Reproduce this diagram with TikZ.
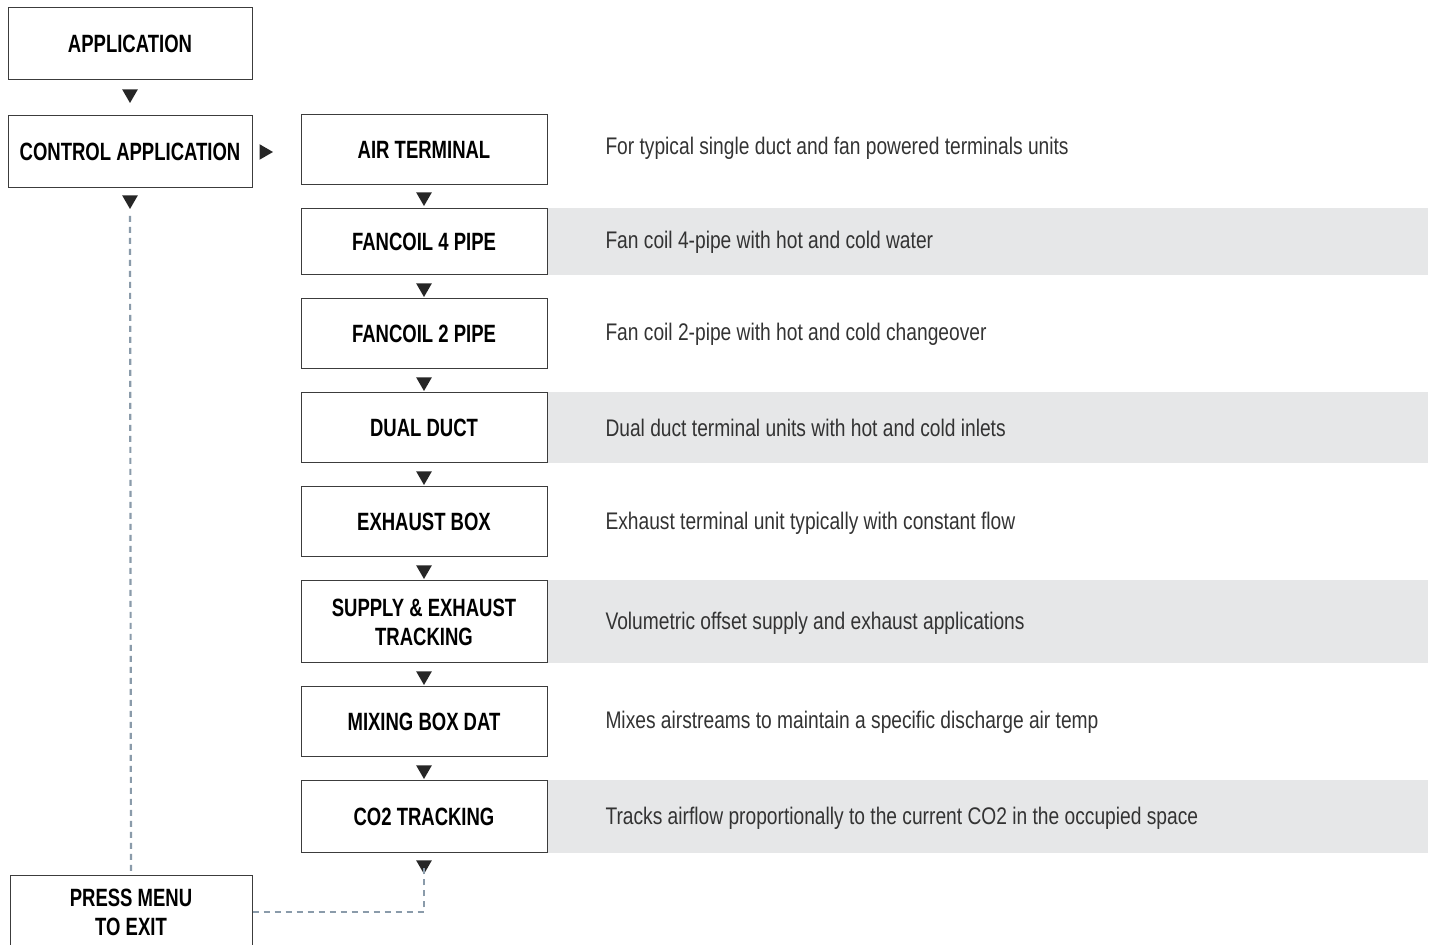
\documentclass[tikz,border=0pt]{standalone}
\usepackage{fontspec}
\setmainfont{Liberation Sans}[FakeStretch=0.8]
\newfontfamily\boxfont{Liberation Sans Bold}[FakeStretch=0.74]
\usetikzlibrary{shapes.geometric,backgrounds}

\definecolor{bandgray}{RGB}{230,231,232}
\definecolor{dashblue}{RGB}{138,155,170}
\definecolor{boxline}{RGB}{60,60,60}

\tikzset{every picture/.style={line width=0.5pt}}
\tikzset{
  box/.style={draw=boxline, fill=white, align=center, inner sep=0pt,
    minimum width=123pt, minimum height=35pt, font=\fontsize{12.5}{14.5}\boxfont},
  desc/.style={anchor=west, inner sep=0pt, font=\fontsize{12}{14}\selectfont, text=black!80},
  tri/.style={regular polygon, regular polygon sides=3, shape border rotate=180,
    fill=black!85, inner sep=0pt, minimum size=9pt},
  trir/.style={tri, shape border rotate=-90},
  band/.style={fill=bandgray, draw=none},
  dashline/.style={draw=dashblue, line width=1.1pt, dash pattern=on 3pt off 2.5pt}
}

\begin{document}
\begin{tikzpicture}[x=0.5pt,y=0.5pt,yscale=-1]
\useasboundingbox (0,0) rectangle (1432,945);

% left column
\node[box, minimum width=122pt, minimum height=36pt] (app) at (130,44) {APPLICATION};
\node[box, minimum width=122pt, minimum height=36pt] (ctrl) at (130,152) {CONTROL APPLICATION};
\node[box, minimum width=121pt, minimum height=36pt] (exit) at (131,912) {PRESS MENU\\TO EXIT};

% application types
\node[box] (airt) at (424,150) {AIR TERMINAL};
\node[box, minimum height=33pt] (fc4) at (424,242) {FANCOIL 4 PIPE};
\node[box] (fc2) at (424,334) {FANCOIL 2 PIPE};
\node[box] (dual) at (424,428) {DUAL DUCT};
\node[box] (exh) at (424,522) {EXHAUST BOX};
\node[box, minimum height=41pt] (track) at (424,622) {SUPPLY \& EXHAUST\\TRACKING};
\node[box] (mix) at (424,722) {MIXING BOX DAT};
\node[box, minimum height=36pt] (co2) at (424,817) {CO2 TRACKING};

% shaded rows
\coordinate (edge) at (1428,0);
\begin{scope}[on background layer]
\foreach \n in {fc4,dual,track,co2}
  \fill[band] (\n.north east) rectangle (\n.south east -| edge);
\end{scope}

% descriptions
\node[desc] (d1) at (605,148) {For typical single duct and fan powered terminals units};
\node[desc] (d2) at (605,242) {Fan coil 4-pipe with hot and cold water};
\node[desc] (d3) at (605,334) {Fan coil 2-pipe with hot and cold changeover};
\node[desc] (d4) at (605,428) {Dual duct terminal units with hot and cold inlets};
\node[desc] (d5) at (605,523) {Exhaust terminal unit typically with constant flow};
\node[desc] (d6) at (605,623) {Volumetric offset supply and exhaust applications};
\node[desc] (d7) at (605,722) {Mixes airstreams to maintain a specific discharge air temp};
\node[desc] (d8) at (605,818) {Tracks airflow proportionally to the current CO2 in the occupied space};

% arrowheads
\node[tri] (a0) at (130,94) {};
\node[trir] (a1) at (264,152) {};
\node[tri] (a2) at (130,200) {};
\foreach \y [count=\i] in {197,288,382,476,570,676,770,865}
  \node[tri] (b\i) at (424,\y) {};

% exit path
\draw[dashline] (a2.south) ++(0,6) -- (exit.north);
\draw[dashline] (exit.east) -| ([yshift=-4]b8.south);

\end{tikzpicture}
\end{document}
